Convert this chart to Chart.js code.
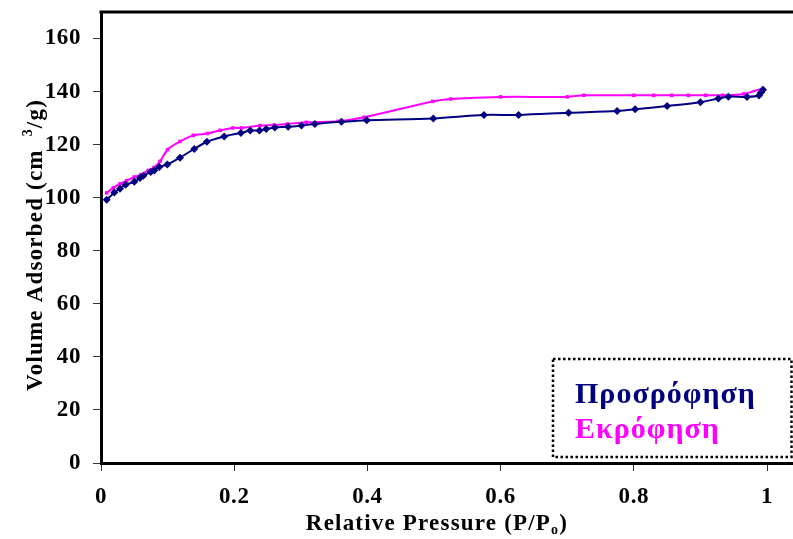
<!doctype html>
<html>
	<head>
		<meta charset="utf-8" />
		<title>Isotherm</title>
		<script src="https://cdn.jsdelivr.net/npm/chart.js@4.4.1/dist/chart.umd.min.js"></script>
		<style>
			html,
			body {
				margin: 0;
				padding: 0;
				background: #fff;
			}

			#wrap {
				position: relative;
				width: 793px;
				height: 539px;
			}
		</style>
	</head>

	<body>
		<div id="wrap"><canvas id="chartJSContainer"></canvas></div>

		<script>
			// data
			const seriesNames = ["Προσρόφηση", "Εκρόφηση"];

			const adsP = [0.0085, 0.02, 0.0285, 0.037, 0.05, 0.0586, 0.0635, 0.0746, 0.08, 0.0876, 0.0996, 0.1186, 0.14, 0.159, 0.185, 0.21, 0.224, 0.238, 0.248, 0.261, 0.281, 0.301, 0.321, 0.361, 0.399, 0.499, 0.575, 0.627, 0.702, 0.775, 0.802, 0.85, 0.9, 0.927, 0.942, 0.97, 0.988, 0.991, 0.994];
			const adsV = [99.2, 102, 103.4, 104.9, 106, 107.4, 108.3, 109.7, 110.3, 111.6, 112.5, 115.1, 118.4, 121.1, 123.1, 124.4, 125.3, 125.3, 125.9, 126.5, 126.7, 127.2, 127.8, 128.6, 129.2, 129.9, 131.2, 131.2, 132, 132.7, 133.3, 134.6, 136, 137.4, 138.1, 138, 138.5, 139.7, 140.7];

			const desP = [0.9935, 0.965, 0.933, 0.908, 0.882, 0.857, 0.83, 0.8, 0.725, 0.7, 0.6, 0.525, 0.498, 0.395, 0.356, 0.308, 0.28, 0.26, 0.239, 0.211, 0.198, 0.179, 0.16, 0.1386, 0.1186, 0.1, 0.0886, 0.0796, 0.071, 0.06, 0.05, 0.0385, 0.0285, 0.0185, 0.0085];
			const desV = [141.2, 139.1, 138.6, 138.6, 138.6, 138.6, 138.6, 138.6, 138.6, 138, 138, 137.2, 136.3, 130.3, 128.8, 128.4, 127.8, 127.4, 127.2, 126.3, 126.3, 125.4, 124.2, 123.5, 121.2, 118.1, 113.7, 111.4, 110.3, 108.7, 107.8, 106.4, 105.2, 103.7, 101.8];

			const xTicks = [0, 0.2, 0.4, 0.6, 0.8, 1];
			const yTicks = [0, 20, 40, 60, 80, 100, 120, 140, 160];

			const navy = "#000080",
				magenta = "#ff00ff",
				serif = "'Liberation Serif', 'Times New Roman', serif";

			const toPoints = (xs, ys) => xs.map((x, i) => ({ x: x, y: ys[i] }));

			// Excel spaces its bold serif out a little
			const spacing = {
				id: "spacing",
				beforeDraw(chart) {
					chart.ctx.letterSpacing = "0.6px";
				},
			};

			// titles with sub/superscripts, top frame line, dotted legend box
			const decorations = {
				id: "decorations",
				afterDraw(chart) {
					const ctx = chart.ctx,
						a = chart.chartArea;
					ctx.save();

					ctx.strokeStyle = "#000";
					ctx.lineWidth = 3;
					ctx.beginPath();
					ctx.moveTo(a.left - 1.5, a.top);
					ctx.lineTo(a.right, a.top);
					ctx.stroke();

					ctx.fillStyle = "#000";
					ctx.textBaseline = "alphabetic";
					ctx.letterSpacing = "1.2px";

					// x title
					const big = "bold 23px " + serif,
						small = "bold 14px " + serif;
					ctx.font = big;
					const t1 = "Relative Pressure (P/P",
						t3 = ")";
					const w1 = ctx.measureText(t1).width,
						w3 = ctx.measureText(t3).width;
					ctx.font = small;
					const w2 = ctx.measureText("o").width;
					let x = 437 - (w1 + w2 + w3) / 2;
					const by = 530;
					ctx.font = big;
					ctx.fillText(t1, x, by);
					ctx.font = small;
					ctx.fillText("o", x + w1, by + 4);
					ctx.font = big;
					ctx.fillText(t3, x + w1 + w2, by);

					// y title
					ctx.save();
					ctx.translate(42, 245);
					ctx.rotate(-Math.PI / 2);
					const y1 = "Volume Adsorbed (cm ",
						y3 = "/g)";
					ctx.font = big;
					const v1 = ctx.measureText(y1).width,
						v3 = ctx.measureText(y3).width;
					ctx.font = small;
					const v2 = ctx.measureText("3").width + 6;
					let sx = -(v1 + v2 + v3) / 2;
					ctx.font = big;
					ctx.fillText(y1, sx, 0);
					ctx.font = small;
					ctx.fillText("3", sx + v1 + 6, -10);
					ctx.font = big;
					ctx.fillText(y3, sx + v1 + v2, 0);
					ctx.restore();

					// legend
					ctx.fillStyle = "#fff";
					ctx.fillRect(553, 359, 240, 98);
					ctx.strokeStyle = "#000";
					ctx.lineWidth = 2.5;
					ctx.setLineDash([2.5, 2.5]);
					ctx.strokeRect(553, 359, 238.5, 98);
					ctx.setLineDash([]);
					ctx.letterSpacing = "1px";
					ctx.font = "bold 30px " + serif;
					chart.data.datasets.forEach((ds, i) => {
						ctx.fillStyle = ds.borderColor;
						ctx.fillText(ds.label, 575, 403 + i * 35);
					});

					ctx.restore();
				},
			};

			const tickFont = { family: serif, size: 23, weight: "bold" };

			new Chart(document.getElementById("chartJSContainer"), {
				type: "line",
				data: {
					datasets: [
						{
							label: seriesNames[0],
							data: toPoints(adsP, adsV),
							borderColor: navy,
							backgroundColor: navy,
							borderWidth: 2,
							tension: 0.3,
							pointStyle: "rectRot",
							pointRadius: 4,
							pointBorderWidth: 0,
						},
						{
							label: seriesNames[1],
							data: toPoints(desP, desV),
							borderColor: magenta,
							backgroundColor: magenta,
							borderWidth: 2,
							tension: 0.3,
							pointStyle: "rect",
							pointRadius: 2.5,
							pointBorderWidth: 0,
						},
					],
				},
				options: {
					responsive: true,
					maintainAspectRatio: false,
					animation: false,
					layout: {
						autoPadding: false,
						padding: { top: 12, right: 0, left: 0, bottom: 0 },
					},
					plugins: {
						legend: { display: false },
						tooltip: { enabled: false },
					},
					scales: {
						x: {
							type: "linear",
							min: 0,
							max: 692 / 666,
							afterBuildTicks: (s) => {
								s.ticks = xTicks.map((v) => ({ value: v }));
							},
							afterFit: (s) => {
								s.height = 76;
								s.paddingLeft = 0;
								s.paddingRight = 0;
							},
							grid: {
								drawOnChartArea: false,
								drawTicks: true,
								tickLength: 8,
								tickColor: "#333",
								tickWidth: 1,
							},
							border: { color: "#000", width: 3 },
							ticks: {
								font: tickFont,
								color: "#000",
								padding: 12,
								maxRotation: 0,
								callback: (v) => String(v),
							},
						},
						y: {
							min: 0,
							max: 170,
							afterBuildTicks: (s) => {
								s.ticks = yTicks.map((v) => ({ value: v }));
							},
							afterFit: (s) => {
								s.width = 101;
								s.paddingTop = 0;
								s.paddingBottom = 0;
							},
							grid: {
								drawOnChartArea: false,
								drawTicks: true,
								tickLength: 8,
								tickColor: "#333",
								tickWidth: 1,
							},
							border: { color: "#000", width: 3 },
							ticks: {
								font: tickFont,
								color: "#000",
								padding: 12,
								callback: (v) => String(v),
							},
						},
					},
				},
				plugins: [spacing, decorations],
			});
		</script>
	</body>
</html>
